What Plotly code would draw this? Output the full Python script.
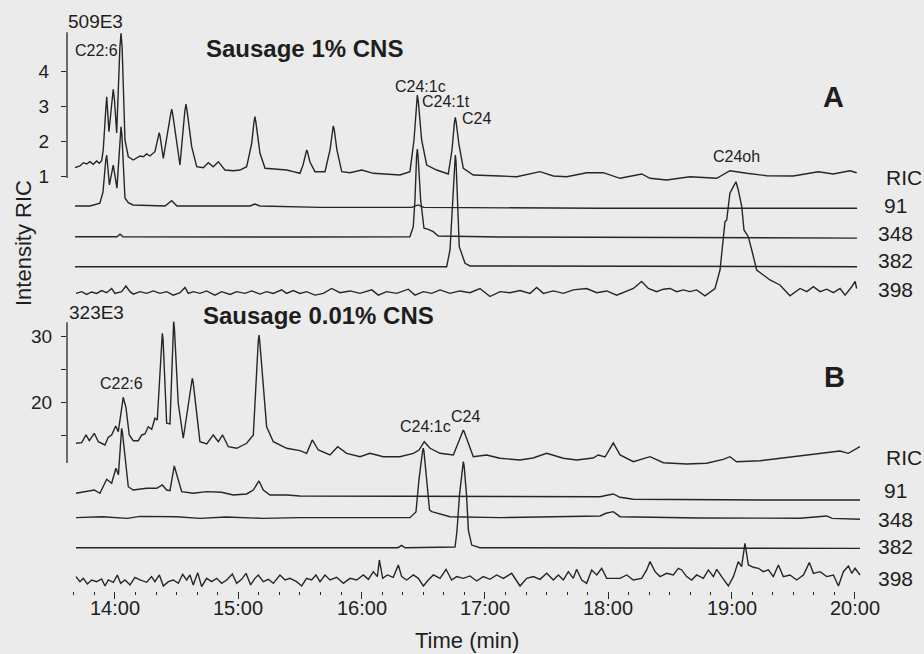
import plotly.graph_objects as go

# ---------------- data (time in min, intensity in panel units) ----------------
# Panel A: Sausage 1% CNS, intensity axis in units of 1E5 (full scale 509E3)
A_RIC = [(13.676,1.257),(13.716,1.306),(13.743,1.400),(13.770,1.363),(13.797,1.429),(13.824,1.354),
         (13.852,1.449),(13.873,1.383),(13.892,1.457),(13.905,1.763),(13.925,2.90),(13.933,3.286),(13.951,2.286),
         (13.975,3.20),(13.986,3.497),(13.996,3.20),(14.014,2.249),(14.040,4.70),(14.049,5.097),(14.058,4.70),
         (14.081,2.049),(14.108,1.571),(14.148,1.477),
         (14.203,1.591),(14.230,1.571),(14.257,1.649),(14.284,1.591),(14.324,1.714),(14.352,2.15),(14.359,2.257),
         (14.366,2.15),(14.392,1.526),(14.450,2.75),(14.460,2.934),(14.470,2.75),(14.527,1.334),(14.566,2.85),
         (14.576,3.077),(14.586,2.85),(14.622,1.857),(14.663,1.286),
         (14.716,1.257),(14.757,1.400),(14.797,1.286),(14.838,1.429),(14.892,1.191),(14.959,1.171),
         (15.014,1.191),(15.068,1.286),(15.109,1.954),(15.127,2.55),(15.135,2.714),(15.143,2.55),(15.176,1.669),
         (15.217,1.240),
         (15.311,1.211),(15.393,1.191),(15.446,1.143),(15.500,1.097),(15.525,1.334),(15.548,1.70),(15.555,1.763),
         (15.562,1.70),(15.581,1.420),(15.622,1.143),(15.703,1.143),(15.744,1.763),(15.762,2.35),(15.770,2.449),
         (15.778,2.35),(15.800,1.763),
         (15.839,1.143),(15.906,1.114),(16.001,1.191),(16.095,1.097),(16.311,1.049),(16.392,1.143),
         (16.425,2.049),(16.444,3.15),(16.452,3.334),(16.460,3.15),(16.487,2.049),(16.528,1.334),(16.609,1.191),
         (16.703,1.077),
         (16.733,1.763),(16.753,2.55),(16.760,2.697),(16.767,2.55),(16.790,1.906),(16.825,1.240),(16.906,1.049),
         (17.122,1.020),
         (17.258,1.000),(17.447,1.143),(17.555,1.020),(17.663,1.000),(17.826,1.114),(17.960,1.114),
         (18.096,0.954),(18.272,1.077),(18.339,0.954),(18.475,0.906),(18.663,1.000),(18.880,0.954),
         (18.987,1.171),(19.123,1.097),(19.285,1.029),(19.501,1.020),(19.704,1.143),(19.825,1.077),
         (19.960,1.171),(20.015,1.114)]
A_91 = [(13.676,0),(13.797,0),(13.878,0.08),(13.903,0.4),(13.925,1.30),(13.933,1.457),(13.955,0.6),
        (13.980,1.05),(13.986,1.171),(14.016,0.51),(14.042,2.05),(14.049,2.266),(14.056,2.05),
        (14.081,0.229),(14.108,0.094),(14.146,0.03),(14.406,0),
        (14.460,0.151),(14.503,0),(15.095,0),(15.135,0.057),(15.176,0),(15.663,-0.04),(16.408,-0.04),
        (16.457,0.03),(16.505,-0.04),(17.934,-0.066),(20.018,-0.066)]
A_348 = [(13.676,0),(14.016,0),(14.041,0.069),(14.065,0),(15.500,-0.01),(16.392,0),(16.419,0.286),
         (16.433,1.049),(16.446,2.30),(16.452,2.506),(16.458,2.30),(16.479,1.049),(16.506,0.24),(16.541,0.211),
         (16.581,0.143),(16.622,0.02),(17.122,-0.01),(20.018,-0.04)]
A_382 = [(13.676,0),(16.690,0),(16.717,0.477),(16.737,1.9),(16.754,3.00),(16.760,3.191),(16.766,3.00),
         (16.778,2.05),(16.792,0.571),(16.839,0.097),(16.879,0.02),(20.018,0)]
A_398 = [(13.684,-0.04),(13.730,0.01),(13.770,-0.07),(13.811,0),(13.851,-0.04),(13.892,0.04),(13.932,-0.02),
         (13.973,0.10),(14.000,-0.04),(14.054,0.01),(14.089,0.17),(14.122,0.01),(14.149,-0.06),(14.203,0.01),
         (14.257,-0.04),(14.311,0.03),(14.365,-0.04),(14.419,0.01),(14.473,-0.09),(14.527,-0.02),(14.568,0.13),
         (14.595,-0.04),(14.635,0.01),(14.689,-0.04),(14.743,0.03),(14.811,-0.09),(14.865,0.01),(14.933,-0.07),
         (14.987,0.01),(15.054,-0.04),(15.108,0.03),(15.176,-0.06),(15.230,0.01),(15.284,-0.04),(15.352,0.06),
         (15.392,-0.04),(15.446,0.04),(15.500,-0.04),(15.554,0.01),(15.622,-0.09),(15.690,-0.04),(15.757,0.10),
         (15.825,-0.02),(15.906,0.03),(15.987,-0.04),(16.082,0.06),(16.136,-0.09),(16.203,0.01),(16.284,-0.04),
         (16.379,0.08),(16.433,-0.09),(16.501,0.01),(16.568,-0.04),(16.636,0.06),(16.717,-0.04),(16.798,0.03),
         (16.879,-0.02),(16.960,0.10),(17.041,-0.13),(17.123,0.01),(17.204,-0.02),(17.285,0.04),(17.366,-0.04),
         (17.420,0.13),(17.474,-0.04),(17.555,0.03),(17.636,-0.04),(17.717,0.06),(17.825,0.10),(17.907,-0.02),
         (17.988,0.03),(18.069,-0.09),(18.204,0.10),(18.271,0.30),(18.326,0.10),(18.393,0.01),(18.447,0.08),
         (18.501,0.10),(18.555,0.01),(18.609,0.06),(18.663,0.01),(18.717,0.06),(18.785,-0.11),(18.866,0.10),
         (18.907,0.629),(18.947,2.009),(18.961,2.057),(18.987,2.82),(19.015,3.009),(19.036,3.151),(19.055,2.914),
         (19.083,2.437),(19.101,1.771),(19.136,1.580),(19.164,1.2),(19.204,0.629),(19.258,0.486),(19.312,0.343),
         (19.393,0.2),(19.474,-0.11),(19.556,0.10),(19.610,0.01),(19.664,0.15),(19.718,0.01),(19.772,0.08),
         (19.826,-0.02),(19.880,0.10),(19.921,-0.09),(19.975,0.15),(20.002,0.30),(20.015,0.10)]

# Panel B: Sausage 0.01% CNS, intensity axis in units of 1E4 (full scale 323E3)
B_RIC = [(13.684,13.85),(13.730,13.94),(13.765,15.11),(13.792,14.24),(13.832,15.36),(13.865,14.09),
         (13.919,13.59),(13.946,14.76),(13.973,15.11),(14.006,16.47),(14.027,15.61),(14.060,20.30),(14.067,20.82),
         (14.074,20.30),(14.089,19.30),(14.116,15.11),(14.148,14.24),(14.189,14.24),(14.217,15.11),(14.243,15.26),
         (14.270,16.36),(14.298,15.97),(14.324,17.64),(14.343,17.38),(14.378,29.60),(14.384,30.52),(14.390,29.60),
         (14.419,16.88),
         (14.446,16.77),(14.470,31.30),(14.476,32.27),(14.482,31.30),(14.513,19.91),(14.554,14.61),(14.594,19.39),
         (14.620,23.10),(14.627,23.70),(14.634,23.10),
         (14.663,17.88),(14.689,14.09),(14.744,13.74),(14.797,15.11),(14.838,14.09),(14.873,15.11),
         (14.919,13.33),(14.987,13.09),(15.068,13.85),(15.122,15.11),(15.162,29.30),(15.168,30.26),(15.174,29.30),
         (15.230,16.36),
         (15.284,14.09),(15.393,13.09),(15.500,12.73),(15.555,12.33),(15.600,14.35),(15.649,12.83),
         (15.744,12.08),(15.806,13.33),(15.879,12.33),(15.987,11.82),(16.068,12.33),(16.176,11.82),
         (16.311,11.82),(16.420,12.33),(16.466,12.83),(16.508,14.09),(16.555,13.09),(16.636,12.33),
         (16.744,12.08),(16.793,14.35),(16.818,15.60),(16.825,15.86),(16.832,15.60),(16.866,13.85),(16.906,11.82),
         (17.014,12.08),
         (17.122,11.58),(17.284,11.32),(17.390,11.62),(17.501,12.33),(17.636,11.58),(17.744,11.32),
         (17.877,11.62),(17.920,12.08),(17.974,11.77),(18.041,13.89),(18.096,12.08),(18.204,11.06),
         (18.339,11.82),(18.447,10.91),(18.636,10.71),(18.798,10.82),(18.933,11.42),(18.987,11.82),
         (19.041,11.06),(19.231,11.21),(19.393,11.58),(19.555,11.92),(19.717,12.33),(19.879,12.68),
         (19.947,12.33),(20.041,13.33)]
B_91 = [(13.684,0.1),(13.832,0.6),(13.878,0.1),(13.933,2.23),(13.973,1.62),(14.008,3.89),(14.028,2.9),
        (14.048,9.40),(14.054,9.95),(14.060,9.40),(14.077,6.67),(14.108,1.1),(14.148,0.6),(14.257,0.86),
        (14.338,0.86),(14.384,1.36),
        (14.419,0.6),(14.446,0.5),(14.481,4.24),(14.541,0.35),(14.635,0.1),(14.744,0.35),(14.865,0.26),
        (14.959,-0.15),(15.068,0),(15.122,0.6),(15.168,1.97),(15.203,0.6),(15.257,-0.15),(15.393,-0.15),
        (15.500,-0.3),(16.473,-0.3),(17.934,-0.41),(17.990,-0.2),(18.041,0.0),(18.096,-0.5),(18.204,-0.8),
        (19.285,-0.91),(20.042,-0.91)]
B_348 = [(13.684,0),(13.900,0.15),(14.100,-0.1),(14.203,0.2),(14.500,0.15),(14.689,-0.1),(14.900,0.1),
         (15.200,-0.1),(15.500,0),(16.392,0),(16.441,0.86),(16.465,5.7),(16.494,10.0),(16.500,10.52),
         (16.506,10.0),(16.530,5.7),
         (16.551,1.17),(16.569,0.91),(16.603,0.71),(16.636,0.52),(16.717,0.15),(17.122,0),(17.934,0.26),
         (17.982,0.67),(18.041,0.91),(18.096,0.15),(18.745,-0.05),(19.556,-0.09),(19.772,0.26),
         (19.815,-0.1),(20.042,-0.24)]
B_382 = [(13.684,0),(16.295,0),(16.325,0.35),(16.352,0),(16.758,0.1),(16.774,2.6),(16.794,8.0),
         (16.819,12.50),(16.825,13.03),(16.831,12.50),(16.851,8.0),(16.866,2.67),(16.893,0.4),(16.960,0),
         (20.042,-0.1)]
B_398 = [(13.684,0.51),(13.716,-0.25),(13.743,0.25),(13.776,-0.61),(13.811,0),(13.851,-0.25),(13.892,0.15),
         (13.919,-0.91),(13.946,0),(13.987,-0.35),(14.019,0.76),(14.046,-0.51),(14.081,0),(14.122,-0.76),
         (14.162,0.40),(14.203,0),(14.257,-0.35),(14.297,0.51),(14.324,-0.25),(14.360,0.76),(14.392,-0.91),
         (14.433,-0.25),(14.473,0),(14.514,-0.51),(14.549,0.86),(14.581,0),(14.608,0.76),(14.635,-0.76),
         (14.671,1.11),(14.703,-1.01),(14.743,0.25),(14.784,-0.25),(14.825,0.25),(14.865,-0.51),(14.906,0),
         (14.952,0.91),(14.987,-0.51),(15.027,0.10),(15.063,1.01),(15.100,-0.76),(15.135,0.25),(15.162,0.76),
         (15.203,-0.25),(15.244,0.10),(15.284,-0.51),(15.338,0.76),(15.379,0),(15.419,0.25),(15.473,-0.25),
         (15.514,-0.91),(15.554,0.25),(15.595,0),(15.630,0.76),(15.663,-0.25),(15.703,0.76),(15.744,0),
         (15.798,0.40),(15.852,-0.51),(15.906,0.25),(15.960,0),(16.014,0.76),(16.055,0.10),(16.095,1.26),
         (16.128,0.51),(16.144,3.03),(16.171,0.25),(16.209,0.76),(16.257,0.40),(16.298,2.27),(16.325,0.51),
         (16.366,0),(16.420,0.76),(16.460,0.25),(16.501,-0.91),(16.541,0),(16.582,0.76),(16.636,0.25),
         (16.685,1.62),(16.730,0),(16.771,0.51),(16.825,0.25),(16.879,0.61),(16.933,-0.15),(16.987,0.51),
         (17.041,0.10),(17.095,0.76),(17.150,0.25),(17.217,1.01),(17.285,-0.91),(17.339,0.25),(17.393,0.51),
         (17.447,0.10),(17.501,1.01),(17.555,0),(17.596,0.76),(17.636,0),(17.677,1.26),(17.717,0.25),
         (17.744,1.62),(17.785,0),(17.825,-0.51),(17.866,1.52),(17.907,0.76),(17.947,1.77),(17.988,0.25),
         (18.096,0.25),(18.150,0.76),(18.204,0),(18.271,0.25),(18.312,1.52),(18.339,2.78),(18.380,1.26),
         (18.420,0.51),(18.474,1.01),(18.528,0.76),(18.569,1.77),(18.596,1.52),(18.636,0.51),(18.677,0),
         (18.717,0.76),(18.772,0.25),(18.812,1.52),(18.853,0.51),(18.880,1.62),(18.920,0.51),(18.974,-0.91),
         (19.015,0.51),(19.055,2.78),(19.082,2.02),(19.109,5.56),(19.137,2.27),(19.177,1.92),(19.218,1.77),
         (19.258,1.26),(19.299,1.52),(19.339,0.51),(19.380,2.27),(19.420,0.51),(19.474,0.76),(19.528,0),
         (19.583,0.76),(19.631,2.63),(19.664,1.01),(19.718,1.26),(19.772,0.51),(19.826,0.76),(19.867,-0.91),
         (19.907,1.26),(19.948,2.12),(19.975,1.01),(20.002,1.77),(20.042,0.76)]

ION_LABELS = ["RIC", "91", "348", "382", "398"]
A_TRACES = [A_RIC, A_91, A_348, A_382, A_398]
B_TRACES = [B_RIC, B_91, B_348, B_382, B_398]
A_OFFSETS = [0.0, 0.163, -0.714, -1.571, -2.294]
B_OFFSETS = [0.0, 6.17, 2.58, -1.97, -6.86]

X_TICKS = [14, 15, 16, 17, 18, 19, 20]
X_TICKTEXT = ["14:00", "15:00", "16:00", "17:00", "18:00", "19:00", "20:00"]
A_YTICKS = [1, 2, 3, 4]
B_YTICKS = [15, 20, 25, 30]
B_YTICKTEXT = ["", "20", "", "30"]

# ---------------- figure ----------------
W, H = 924, 654
LINE = "#262626"
TXT = "#1e1e1e"
FONT = "Liberation Sans, Arial, Helvetica, sans-serif"
BG = "#ebebeb"

def px(x, y):
    return x / W, 1 - y / H

fig = go.Figure()
for tr, off in zip(A_TRACES, A_OFFSETS):
    fig.add_trace(go.Scatter(x=[p[0] for p in tr], y=[p[1] + off for p in tr], mode="lines",
                             line=dict(color=LINE, width=1.4), xaxis="x", yaxis="y",
                             hoverinfo="skip", showlegend=False))
for tr, off in zip(B_TRACES, B_OFFSETS):
    fig.add_trace(go.Scatter(x=[p[0] for p in tr], y=[p[1] + off for p in tr], mode="lines",
                             line=dict(color=LINE, width=1.4), xaxis="x2", yaxis="y2",
                             hoverinfo="skip", showlegend=False))

xdom = [67 / W, 870 / W]
xr = [13.611, 20.123]

annotations = []
def ann(text, x, y, size, bold=False, xanchor="center", angle=0):
    annotations.append(dict(text=("<b>%s</b>" % text) if bold else text, x=px(x, y)[0], y=px(x, y)[1],
                            xref="paper", yref="paper", showarrow=False, xanchor=xanchor,
                            yanchor="middle", textangle=angle,
                            font=dict(family=FONT, size=size, color=TXT)))

ann("509E3", 95, 22, 19)
ann("323E3", 96, 312, 19)
ann("Sausage 1% CNS", 304, 48, 24, bold=True)
ann("Sausage 0.01% CNS", 318, 315, 24, bold=True)
ann("A", 833, 97, 29, bold=True)
ann("B", 834, 377, 29, bold=True)
ann("C22:6", 96, 50, 16)
ann("C24:1c", 420, 87, 16)
ann("C24:1t", 446, 102, 16)
ann("C24", 476, 118, 16)
ann("C24oh", 736, 157, 16)
ann("C22:6", 121, 383, 16)
ann("C24:1c", 425, 426, 16)
ann("C24", 466, 416, 16)
for lab, yy in zip(ION_LABELS, [177, 205, 233, 261, 290]):
    ann(lab, 904 if lab == "RIC" else 895, yy, 21)
for lab, yy in zip(ION_LABELS, [458, 490, 519, 546, 578]):
    ann(lab, 904 if lab == "RIC" else 895, yy, 21)
ann("Intensity RIC", 23, 243, 22, angle=-90)
ann("Time (min)", 467, 640, 22)
# x tick labels placed on the x2 data scale
for tv, tt in zip(X_TICKS, X_TICKTEXT):
    annotations.append(dict(text=tt, x=tv, y=px(0, 608)[1], xref="x2", yref="paper", showarrow=False,
                            xanchor="center", yanchor="middle",
                            font=dict(family=FONT, size=20, color=TXT)))

shapes = [
    dict(type="line", xref="paper", yref="y", x0=xdom[0], x1=xdom[0], y0=0.96, y1=5.13,
         line=dict(color=LINE, width=1.3)),
    dict(type="line", xref="paper", yref="y2", x0=xdom[0], x1=xdom[0], y0=10.86, y1=32.2,
         line=dict(color=LINE, width=1.3)),
]

tickfont = dict(family=FONT, size=19, color=TXT)
fig.update_layout(
    width=W, height=H, margin=dict(l=0, r=0, t=0, b=0),
    paper_bgcolor=BG, plot_bgcolor=BG, showlegend=False,
    xaxis=dict(domain=xdom, range=xr, anchor="y", visible=False),
    yaxis=dict(domain=[1 - 300 / H, 1 - 20 / H], range=[-2.523, 5.477], anchor="x",
               tickvals=A_YTICKS, ticks="outside", ticklen=5, tickwidth=1.2, tickcolor=LINE,
               showgrid=False, zeroline=False, showline=False, tickfont=tickfont,
               ticklabelstandoff=8),
    xaxis2=dict(domain=xdom, range=xr, anchor="y2", tickvals=X_TICKS, showticklabels=False,
                ticks="outside", ticklen=7, tickwidth=1.2, tickcolor=LINE, showgrid=False,
                zeroline=False, showline=False,
                minor=dict(ticks="outside", ticklen=3, tickwidth=1.2, tickcolor=LINE,
                           dtick=1 / 6, tick0=14, showgrid=False)),
    yaxis2=dict(domain=[1 - 591 / H, 1 - 305 / H], range=[-8.53, 34.80], anchor="x2",
                tickvals=B_YTICKS, ticktext=B_YTICKTEXT, ticks="outside", ticklen=5, tickwidth=1.2,
                tickcolor=LINE, showgrid=False, zeroline=False, showline=False, tickfont=tickfont,
                ticklabelstandoff=5),
    annotations=annotations, shapes=shapes,
)

fig.write_html("out.html")
